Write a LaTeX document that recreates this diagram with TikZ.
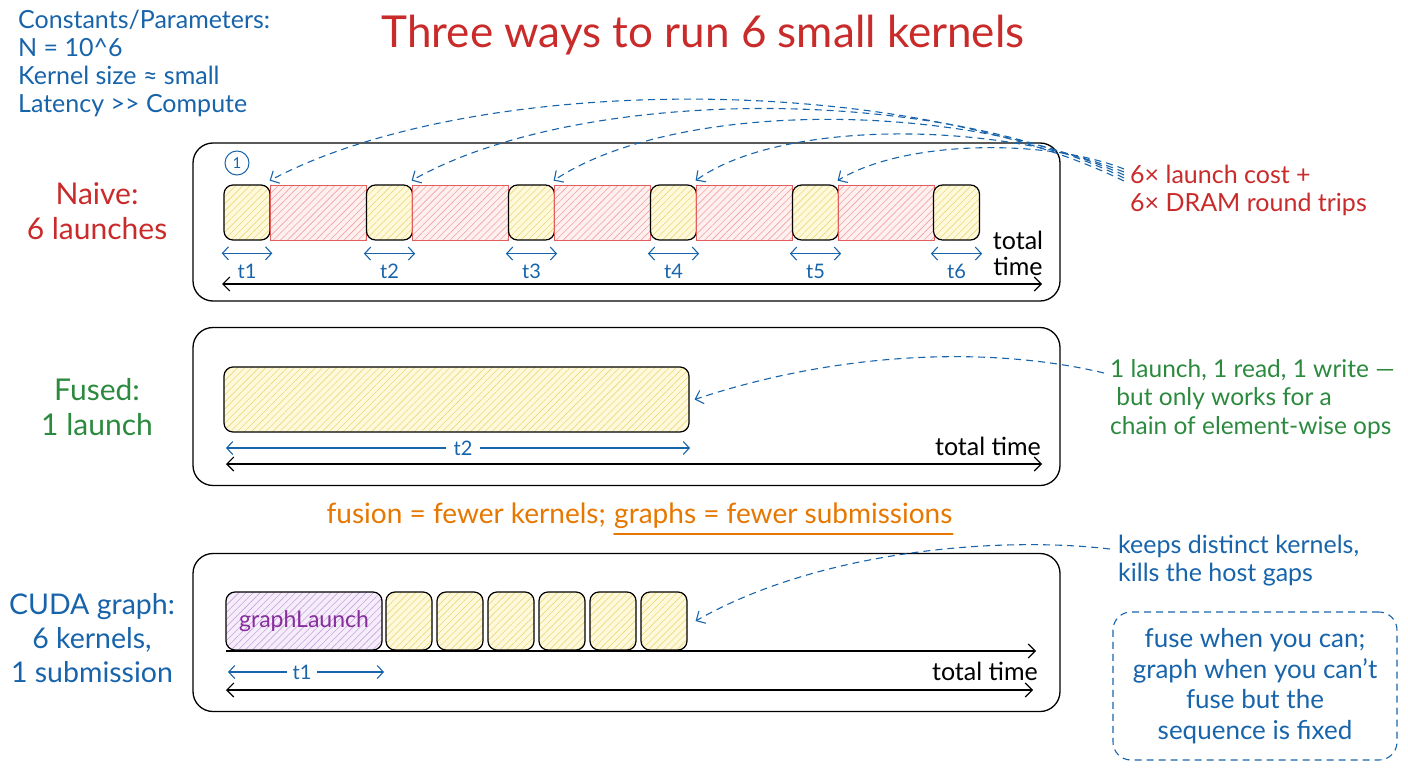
\documentclass[tikz,border=0pt]{standalone}
\usepackage{fontspec}
\setmainfont{Lato}
\usetikzlibrary{arrows.meta,patterns.meta}
\definecolor{cred}{HTML}{C92A2A}
\definecolor{cblue}{HTML}{1864AB}
\definecolor{cgreen}{HTML}{2B8A3E}
\definecolor{corange}{HTML}{E67700}
\definecolor{cpurple}{HTML}{862E9C}
\definecolor{kfill}{HTML}{FFF9DB}
\definecolor{khatch}{HTML}{EDD77A}
\definecolor{rfill}{HTML}{FFF0F0}
\definecolor{rhatch}{HTML}{F2A0A0}
\definecolor{rborder}{HTML}{E35D5D}
\definecolor{pfill}{HTML}{F6EDFB}
\definecolor{phatch}{HTML}{C8A2DE}
\newcommand{\fs}[2]{\fontsize{#1}{#2}\selectfont}
\begin{document}
\begin{tikzpicture}[x=1pt,y=-1pt,
  panel/.style={draw=black, line width=1.3pt, rounded corners=20pt, minimum width=867pt, minimum height=158pt, inner sep=0pt},
  kern/.style={draw=black, line width=1.2pt, rounded corners=9pt, preaction={fill=kfill},
    pattern={Lines[angle=45,distance=5pt,line width=0.6pt]}, pattern color=khatch,
    minimum width=46pt, minimum height=55pt, inner sep=0pt},
  dram/.style={draw=rborder, line width=0.8pt, preaction={fill=rfill},
    pattern={Lines[angle=45,distance=5pt,line width=0.6pt]}, pattern color=rhatch,
    minimum width=96pt, minimum height=55pt, inner sep=0pt},
  glbox/.style={draw=black, line width=1.2pt, rounded corners=9pt, preaction={fill=pfill},
    pattern={Lines[angle=45,distance=5pt,line width=0.6pt]}, pattern color=phatch,
    minimum width=156pt, minimum height=58pt, inner sep=0pt, text=cpurple, font=\fs{23}{26}},
  tarrow/.style={draw=cblue, line width=1.1pt, {Straight Barb[length=6pt,width=13pt]}-{Straight Barb[length=6pt,width=13pt]}},
  timearrow/.style={draw=black, line width=1.1pt, {Straight Barb[length=7pt,width=14pt]}-{Straight Barb[length=7pt,width=14pt]}},
  dashcurve/.style={draw=cblue, line width=1.1pt, dash pattern=on 7pt off 5pt, -{Straight Barb[length=7pt,width=14pt]}},
  tlabel/.style={text=cblue, font=\fs{20}{22}, inner sep=2pt},
  rowlabel/.style={align=center, font=\fs{30}{35}},
  note/.style={align=left, font=\fs{25}{28}, inner sep=0pt},
  ttlabel/.style={align=center, font=\fs{25}{26}, inner sep=0pt}
]
\useasboundingbox (0,0) rectangle (1408,768);

% title and constants
\node[text=cred, font=\fs{44}{46}] (title) at (703,35) {Three ways to run 6 small kernels};
\node[anchor=north west, align=left, text=cblue, font=\fs{25}{28}, inner sep=0pt] (consts) at (18,10)
  {Constants/Parameters:\\N = 10\^{}6\\Kernel size ≈ small\\Latency >{}> Compute};

% ---------------- Naive ----------------
\node[panel] (p1) at (626.5,222) {};
\node[rowlabel, text=cred] (l1) at (97,211) {Naive:\\6 launches};
\node[circle, draw=cblue, line width=1pt, minimum size=24pt, inner sep=0pt, text=cblue, font=\fs{15}{16}] (one) at (237,163) {1};

\node[kern] (k1) at (247,212.5) {};
\node[dram] (r1) at (318,212.5) {};
\node[kern] (k2) at (389.5,212.5) {};
\node[dram] (r2) at (460,212.5) {};
\node[kern] (k3) at (531.5,212.5) {};
\node[dram] (r3) at (602,212.5) {};
\node[kern] (k4) at (673.5,212.5) {};
\node[dram] (r4) at (744,212.5) {};
\node[kern] (k5) at (815.5,212.5) {};
\node[dram] (r5) at (886,212.5) {};
\node[kern] (k6) at (956.5,212.5) {};

\foreach \i in {1,...,6}{
  \draw[tarrow] ([xshift=-2pt,yshift=-13pt]k\i.south west) -- ([xshift=2pt,yshift=-13pt]k\i.south east);
  \node[tlabel] (tl\i) at ([yshift=-31pt]k\i.south) {t\i};
}
\coordinate (n-tl) at (222,284);
\coordinate (n-tr) at (1042,284);
\draw[timearrow] (n-tl) -- (n-tr);
\node[ttlabel] (tt1) at (1018,253) {total\\time};

\node[note, anchor=west, text=cred] (ann1) at (1130,190) {6× launch cost +\\6× DRAM round trips};
\coordinate (s1) at (1124,181);
\coordinate (s2) at (1124,178);
\coordinate (s3) at (1124,175);
\coordinate (s4) at (1124,172);
\coordinate (s5) at (1124,169);
\draw[dashcurve] (s1) .. controls (901,72) and (475,72) .. ([yshift=4pt]r1.north west);
\draw[dashcurve] (s2) .. controls (936,85) and (581,85) .. ([yshift=4pt]r2.north west);
\draw[dashcurve] (s3) .. controls (959,100) and (675,100) .. ([yshift=4pt]r3.north west);
\draw[dashcurve] (s4) .. controls (993,120) and (780,120) .. ([yshift=4pt]r4.north west);
\draw[dashcurve] (s5) .. controls (1045,138) and (904,140) .. ([yshift=4pt]r5.north west);

% ---------------- Fused ----------------
\node[panel] (p2) at (626.5,406.5) {};
\node[rowlabel, text=cgreen] (l2) at (97,407) {Fused:\\1 launch};
\node[kern, minimum width=465pt, minimum height=65pt] (f1) at (456.5,399.5) {};
\coordinate (f-tl) at (226,448);
\coordinate (f-tr) at (690,448);
\draw[tarrow] (f-tl) -- (f-tr);
\node[tlabel, fill=white, inner xsep=8pt] (ft2) at (463,448) {t2};
\coordinate (f-al) at (226,464);
\coordinate (f-ar) at (1042,464);
\draw[timearrow] (f-al) -- (f-ar);
\node[ttlabel, anchor=east] (tt2) at (1041,446) {total time};

\node[note, anchor=west, text=cgreen, font=\fs{24.5}{28.5}] (ann2) at (1110,399) {1 launch, 1 read, 1 write —\\\ but only works for a\\chain of element-wise ops};
\coordinate (s6) at (1104,373);
\draw[dashcurve] (s6) .. controls (1000,348) and (850,348) .. ([xshift=5pt]f1.east);

% ---------------- middle ----------------
\node[text=corange, font=\fs{28}{30}, inner sep=0pt, anchor=base east] (o1) at (606,523) {fusion = fewer kernels;};
\node[text=corange, font=\fs{28}{30}, inner sep=0pt, anchor=base west] (o2) at (614,523) {graphs = fewer submissions};
\draw[corange, line width=2pt, line cap=round] ([yshift=-6pt]o2.south west) -- ([yshift=-6pt]o2.south east);

% ---------------- CUDA graph ----------------
\node[panel] (p3) at (626.5,632.5) {};
\node[rowlabel, text=cblue, font=\fs{28.5}{34}] (l3) at (92,638) {CUDA graph:\\6 kernels,\\1 submission};
\node[glbox] (gl) at (304,621) {graphLaunch};
\foreach \i/\x in {1/409,2/460,3/511,4/562,5/613,6/664}{
  \node[kern, minimum height=58pt] (c\i) at (\x,621) {};
}
\coordinate (b-l) at (226,651);
\coordinate (b-r) at (1036,651);
\draw[line width=1.1pt, -{Straight Barb[length=7pt,width=14pt]}] (b-l) -- (b-r);
\coordinate (g-tl) at (228,672);
\coordinate (g-tr) at (384,672);
\draw[tarrow] (g-tl) -- (g-tr);
\node[tlabel, fill=white, inner xsep=6pt] (gt1) at (302,672) {t1};
\node[ttlabel, anchor=east] (tt3) at (1038,671) {total time};
\coordinate (g-al) at (226,690);
\coordinate (g-ar) at (1033,690);
\draw[timearrow] (g-al) -- (g-ar);

\node[note, anchor=west, text=cblue] (ann3) at (1118,561) {keeps distinct kernels,\\kills the host gaps};
\coordinate (s7) at (1110,549);
\draw[dashcurve] (s7) .. controls (1000,536) and (820,550) .. ([xshift=8pt]c6.east);

\node[draw=cblue, line width=1.1pt, dash pattern=on 7pt off 5pt, rounded corners=18pt,
  minimum width=284pt, minimum height=148pt, align=center, text=cblue, font=\fs{26}{30.5}] (tip)
  at (1255,686) {fuse when you can;\\graph when you can't\\fuse but the\\sequence is fixed};
\end{tikzpicture}
\end{document}
